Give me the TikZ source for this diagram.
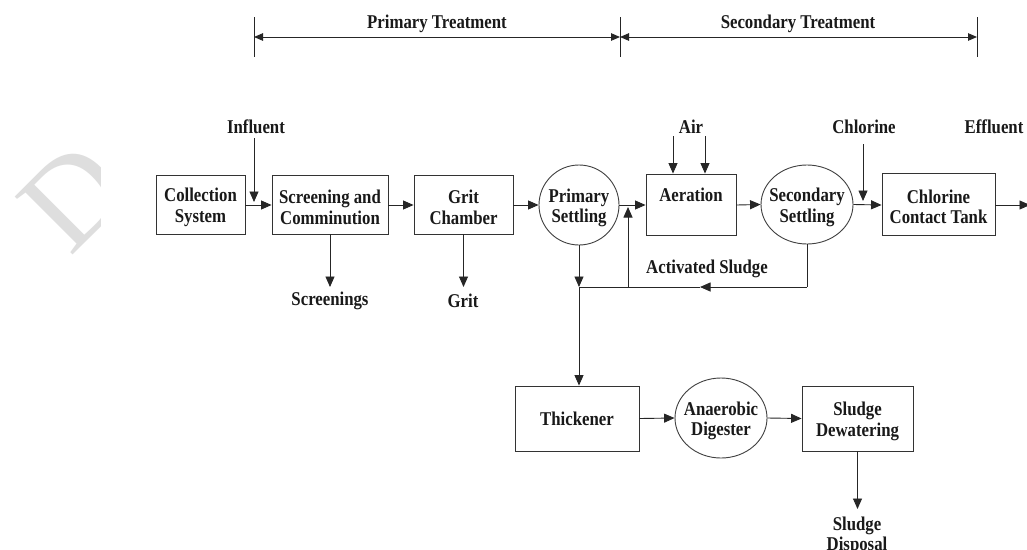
\documentclass[tikz,border=0pt]{standalone}
\usepackage{fontspec}
\newfontfamily\lbl{Liberation Serif}[FakeStretch=0.86]
\newfontfamily\wmk{Liberation Serif}
\usetikzlibrary{arrows.meta,shapes.geometric}
\begin{document}
\begin{tikzpicture}[x=1pt,y=-1pt,
  every node/.style={font=\lbl\bfseries\fontsize{19.5}{20.5}\selectfont, align=center, inner sep=0pt, text=black!90},
  ln/.style={draw=black!85, line width=0.9pt},
  arr/.style={ln, -{Triangle[length=10.5pt,width=9pt]}},
  darr/.style={ln, {Triangle[length=9pt,width=7.5pt]}-{Triangle[length=9pt,width=7.5pt]}},
  procbox/.style={draw=black!80, line width=0.9pt, fill=white, minimum width=#1},
  procbox/.default=90pt,
  roundtank/.style={ellipse, draw=black!75, line width=0.9pt, fill=white},
  boxtext/.style={label={[yshift=-3pt]center:#1}}
]
\useasboundingbox (0,0) rectangle (1027,549);
\fill[white] (0,0) rectangle (1027,549);

% watermark
\begin{scope}
  \clip (0,100) rectangle (100,320);
  \node[font=\wmk\fontsize{125}{125}\selectfont, text=black!13, rotate=45] (wm) at (74,197) {D};
\end{scope}

% treatment spans
\coordinate (t1) at (254,17); \coordinate (t1b) at (254,57);
\coordinate (t2) at (620,17); \coordinate (t2b) at (620,57);
\coordinate (t3) at (977,17); \coordinate (t3b) at (977,57);
\draw[ln] (t1) -- (t1b);
\draw[ln] (t2) -- (t2b);
\draw[ln] (t3) -- (t3b);
\coordinate (a1) at (254,37); \coordinate (a2) at (620,37); \coordinate (a3) at (977,37);
\draw[darr] (a1) -- (a2);
\draw[darr] (a2) -- (a3);
\node (ptreat) at (437,24) {Primary Treatment};
\node (streat) at (798,24) {Secondary Treatment};

% main process
\node[procbox=89pt, minimum height=59pt, boxtext={Collection\\System}] (coll) at (200.5,204.5) {};
\node[procbox=116pt, minimum height=59pt, boxtext={Screening and\\Comminution}] (screen) at (330,204.5) {};
\node[procbox=99pt, minimum height=59pt, boxtext={Grit\\Chamber}] (grit) at (463.5,204.5) {};
\node[roundtank, minimum width=80pt, minimum height=80pt,
      boxtext={Primary\\Settling}] (prim) at (579,205) {};
\node[procbox=90pt, minimum height=61pt,
      label={[yshift=9.5pt]center:Aeration}] (aer) at (691,204.5) {};
\node[roundtank, minimum width=92pt, minimum height=79pt,
      boxtext={Secondary\\Settling}] (sec) at (807,204.5) {};
\node[procbox=113pt, minimum height=62pt, boxtext={Chlorine\\Contact Tank}] (chl) at (938.5,204) {};

% external labels
\node (infl) at (256,127) {Influent};
\node (scrn) at (330,301) {Screenings};
\node (gritout) at (463,301) {Grit};
\node (air) at (691,127) {Air};
\node (chlin) at (864,127) {Chlorine};
\node (effl) at (994,127) {Effluent};
\node (actsl) at (707,269) {Activated Sludge};

% sludge train
\node[procbox=124pt, minimum height=65pt] (thick) at (577,418.5) {Thickener};
\node[roundtank, minimum width=92pt, minimum height=80pt,
      boxtext={Anaerobic\\Digester}] (dig) at (721,418) {};
\node[procbox=111pt, minimum height=65pt, boxtext={Sludge\\Dewatering}] (dew) at (857.5,418.5) {};
\node (disp) at (857,536) {Sludge\\Disposal};

% connectors
\coordinate (inflA) at (254,138);
\coordinate (inflB) at (254,202);
\draw[arr] (inflA) -- (inflB);
\draw[arr] (coll.east |- 0,205) -- (screen.west |- 0,205);
\draw[arr] (screen.east |- 0,205) -- (grit.west |- 0,205);
\draw[arr] (grit.east |- 0,205) -- (prim.west);
\draw[arr] (prim.east) -- (aer.west |- 0,205);
\draw[arr] (aer.east |- 0,205) -- (sec.west);
\draw[arr] (sec.east) -- (chl.west |- 0,205);
\coordinate (effend) at (1030,205);
\draw[arr] (chl.east |- 0,205) -- (effend);

\draw[arr] (screen.south) -- (330,287);
\draw[arr] (grit.south) -- (463.5,287);

\coordinate (airA) at (673,136); \coordinate (airB) at (705,136);
\draw[arr] (airA) -- (airA |- aer.north);
\draw[arr] (airB) -- (airB |- aer.north);
\coordinate (chlA) at (863,144); \coordinate (chlB) at (863,201);
\draw[arr] (chlA) -- (chlB);

% return sludge
\coordinate (j1) at (579,287);
\coordinate (j2) at (628,287);
\coordinate (j3) at (807,287);
\coordinate (mid) at (700,287);
\coordinate (rtip) at (628,207);
\draw[arr] (prim.south) -- (j1);
\draw[ln] (sec.south) -- (j3);
\draw[arr] (j3) -- (mid);
\draw[ln] (mid) -- (j1);
\draw[arr] (j2) -- (rtip);
\draw[arr] (j1) -- (j1 |- thick.north);

\draw[arr] (thick.east) -- (dig.west);
\draw[arr] (dig.east) -- (dew.west);
\coordinate (dispA) at (857.5,509);
\draw[arr] (dew.south) -- (dispA);
\end{tikzpicture}
\end{document}
